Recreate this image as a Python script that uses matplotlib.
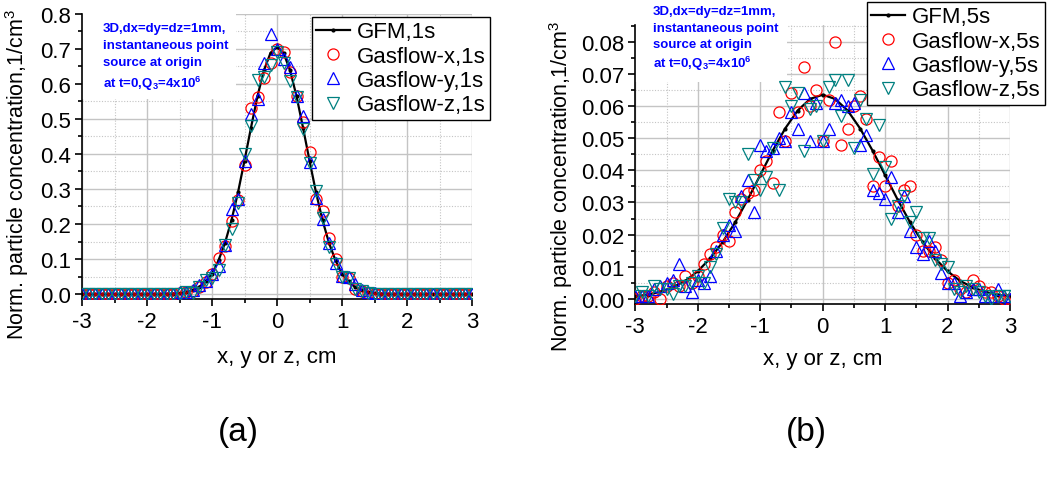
import matplotlib.pyplot as plt
from matplotlib.patches import Rectangle
from matplotlib.ticker import MultipleLocator

plt.rcParams['font.family'] = ['Liberation Sans', 'DejaVu Sans']
plt.rcParams['mathtext.fontset'] = 'custom'
plt.rcParams['mathtext.rm'] = 'Liberation Sans'
plt.rcParams['mathtext.bf'] = 'Liberation Sans:bold'
plt.rcParams['axes.unicode_minus'] = False

# sample positions of the gasflow cells, cm
x_cells = [-3.0, -2.9, -2.8, -2.7, -2.6, -2.5, -2.4, -2.3, -2.2, -2.1,
           -2.0, -1.9, -1.8, -1.7, -1.6, -1.5, -1.4, -1.3, -1.2, -1.1,
           -1.0, -0.9, -0.8, -0.7, -0.6, -0.5, -0.4, -0.3, -0.2, -0.1,
           0.0, 0.1, 0.2, 0.3, 0.4, 0.5, 0.6, 0.7, 0.8, 0.9,
           1.0, 1.1, 1.2, 1.3, 1.4, 1.5, 1.6, 1.7, 1.8, 1.9,
           2.0, 2.1, 2.2, 2.3, 2.4, 2.5, 2.6, 2.7, 2.8, 2.9, 3.0]

# ---- (a) t = 1s ----
gfm_1s = [0.0, 0.0, 0.0, 0.0, 0.0, 0.0, 0.0, 0.0, 0.0, 0.0,
          0.0, 0.0001, 0.0002, 0.0006, 0.0013, 0.0028, 0.0056, 0.011, 0.020, 0.036,
          0.058, 0.096, 0.146, 0.211, 0.290, 0.381, 0.475, 0.565, 0.639, 0.688,
          0.705, 0.688, 0.639, 0.565, 0.475, 0.381, 0.290, 0.211, 0.146, 0.096,
          0.058, 0.036, 0.020, 0.011, 0.0056, 0.0028, 0.0013, 0.0006, 0.0002, 0.0001,
          0.0, 0.0, 0.0, 0.0, 0.0, 0.0, 0.0, 0.0, 0.0, 0.0, 0.0]

gas_x_1s = [0.0, 0.0, 0.0, 0.0, 0.0, 0.0, 0.0, 0.0, 0.0, 0.0,
            0.0, 0.0, 0.0, 0.0, 0.0, 0.003, 0.005, 0.010, 0.020, 0.035,
            0.057, 0.102, 0.138, 0.209, 0.269, 0.367, 0.532, 0.563, 0.617, 0.660,
            0.700, 0.690, 0.635, 0.565, 0.490, 0.404, 0.270, 0.237, 0.161, 0.100,
            0.050, 0.045, 0.014, 0.008, 0.003, 0.001, 0.0, 0.0, 0.0, 0.0,
            0.0, 0.0, 0.0, 0.0, 0.0, 0.0, 0.0, 0.0, 0.0, 0.0, 0.0]

gas_y_1s = [0.0, 0.0, 0.0, 0.0, 0.0, 0.0, 0.0, 0.0, 0.0, 0.0,
            0.0, 0.0, 0.0, 0.0, 0.0, 0.005, 0.007, 0.013, 0.025, 0.038,
            0.057, 0.081, 0.140, 0.243, 0.271, 0.380, 0.514, 0.558, 0.660, 0.741,
            0.700, 0.670, 0.647, 0.566, 0.509, 0.376, 0.274, 0.214, 0.147, 0.090,
            0.052, 0.048, 0.028, 0.012, 0.006, 0.002, 0.0, 0.0, 0.0, 0.0,
            0.0, 0.0, 0.0, 0.0, 0.0, 0.0, 0.0, 0.0, 0.0, 0.0, 0.0]

gas_z_1s = [0.0, 0.0, 0.0, 0.0, 0.0, 0.0, 0.0, 0.0, 0.0, 0.0,
            0.0, 0.0, 0.0, 0.0, 0.0, 0.0, 0.005, 0.003, 0.020, 0.040,
            0.045, 0.070, 0.140, 0.185, 0.260, 0.400, 0.480, 0.612, 0.618, 0.655,
            0.690, 0.660, 0.608, 0.563, 0.470, 0.375, 0.294, 0.218, 0.133, 0.085,
            0.050, 0.045, 0.015, 0.010, 0.004, 0.0, 0.0, 0.0, 0.0, 0.0,
            0.0, 0.0, 0.0, 0.0, 0.0, 0.0, 0.0, 0.0, 0.0, 0.0, 0.0]

# ---- (b) t = 5s ----
x_gfm_5s = [-3.0, -2.8, -2.6, -2.4, -2.2, -2.0, -1.8, -1.6, -1.4, -1.2, -1.0,
            -0.8, -0.6, -0.4, -0.2, 0.0, 0.2, 0.4, 0.6, 0.8, 1.0,
            1.2, 1.4, 1.6, 1.8, 2.0, 2.2, 2.4, 2.6, 2.8, 3.0]
gfm_5s = [0.0008, 0.0013, 0.0022, 0.0036, 0.0056, 0.0086, 0.0126, 0.0177, 0.0238, 0.0309, 0.0385,
          0.0461, 0.0530, 0.0586, 0.0622, 0.0635, 0.0622, 0.0586, 0.0530, 0.0461, 0.0385,
          0.0309, 0.0238, 0.0177, 0.0126, 0.0086, 0.0056, 0.0036, 0.0022, 0.0013, 0.0008]

gas_x_5s = [0.000, 0.001, 0.001, 0.002, 0.000, 0.004, 0.005, 0.004, 0.007, 0.005,
            0.007, 0.011, 0.014, 0.016, 0.020, 0.018, 0.027, 0.031, 0.033, 0.034,
            0.040, 0.043, 0.036, 0.058, 0.049, 0.064, 0.058, 0.072, 0.060, 0.065,
            0.049, 0.062, 0.080, 0.048, 0.053, 0.060, 0.063, 0.056, 0.035, 0.044,
            0.035, 0.043, 0.029, 0.034, 0.035, 0.020, 0.015, 0.015, 0.016, 0.012,
            0.005, 0.006, 0.003, 0.002, 0.006, 0.004, 0.002, 0.002, 0.001, 0.000, 0.000]

gas_y_5s = [0.001, 0.001, 0.001, 0.003, 0.004, 0.005, 0.006, 0.011, 0.004, 0.002,
            0.006, 0.005, 0.007, 0.015, 0.020, 0.023, 0.021, 0.032, 0.037, 0.027,
            0.048, 0.046, 0.047, 0.050, 0.049, 0.058, 0.053, 0.064, 0.049, 0.061,
            0.049, 0.053, 0.061, 0.062, 0.060, 0.061, 0.048, 0.051, 0.034, 0.033,
            0.031, 0.038, 0.027, 0.032, 0.021, 0.016, 0.014, 0.018, 0.015, 0.008,
            0.005, 0.005, 0.001, 0.002, 0.003, 0.003, 0.001, 0.001, 0.003, 0.001, 0.000]

gas_z_5s = [0.001, 0.002, 0.001, 0.004, 0.003, 0.003, 0.0015, 0.004, 0.004, 0.005,
            0.007, 0.005, 0.010, 0.014, 0.022, 0.031, 0.030, 0.030, 0.045, 0.037,
            0.034, 0.038, 0.047, 0.034, 0.066, 0.060, 0.064, 0.046, 0.059, 0.060,
            0.049, 0.066, 0.068, 0.057, 0.068, 0.047, 0.062, 0.056, 0.039, 0.054,
            0.041, 0.025, 0.029, 0.032, 0.024, 0.027, 0.019, 0.019, 0.012, 0.011,
            0.010, 0.003, 0.002, 0.004, 0.003, 0.002, 0.001, 0.000, 0.001, 0.001, 0.001]

note_lines = ['3D,dx=dy=dz=1mm,', 'instantaneous point', 'source at origin',
              r'at t=0,Q$_\mathbf{3}$=4x10$^\mathbf{6}$']

RED = '#ff0000'
BLUE = '#0000ff'
TEAL = '#008080'
W, H = 1047, 481

fig = plt.figure(figsize=(W / 100, H / 100), dpi=100)


def px_axes(left, top, right, bottom):
    # figure pixel box -> add_axes rect
    return fig.add_axes([left / W, 1 - bottom / H, (right - left) / W, (bottom - top) / H])


def setup(ax, ymin, ymax, ymaj, ymin_step, fmt):
    ax.set_xlim(-3, 3)
    ax.set_ylim(ymin, ymax)
    ax.xaxis.set_major_locator(MultipleLocator(1))
    ax.xaxis.set_minor_locator(MultipleLocator(0.5))
    ax.yaxis.set_major_locator(MultipleLocator(ymaj))
    ax.yaxis.set_minor_locator(MultipleLocator(ymin_step))
    ax.yaxis.set_major_formatter(plt.FormatStrFormatter(fmt))
    ax.grid(which='major', color='#c4c4c4', lw=1.0, ls='-')
    ax.grid(which='minor', color='#c4c4c4', lw=0.8, ls=(0, (1, 1.5)))
    ax.set_axisbelow(True)
    ax.spines['top'].set_visible(False)
    ax.spines['right'].set_visible(False)
    ax.spines['left'].set_linewidth(1.2)
    ax.spines['bottom'].set_linewidth(1.2)
    ax.tick_params(which='both', direction='out', width=1.2, labelsize=16)
    ax.tick_params(which='major', length=5)
    ax.tick_params(which='minor', length=3)
    ax.tick_params(axis='y', pad=3)
    ax.tick_params(axis='x', pad=4)


def draw(ax, xg, yg, gx, gy, gz, t):
    ax.plot(xg, yg, color='black', lw=1.6, marker='o', ms=2, label='GFM,' + t, zorder=3)
    ax.plot(x_cells, gx, ls='none', marker='o', ms=8, mfc='none', mec=RED, mew=0.9,
            label='Gasflow-x,' + t, zorder=4)
    ax.plot(x_cells, gy, ls='none', marker='^', ms=8.5, mfc='none', mec=BLUE, mew=0.9,
            label='Gasflow-y,' + t, zorder=4)
    ax.plot(x_cells, gz, ls='none', marker='v', ms=8.5, mfc='none', mec=TEAL, mew=0.9,
            label='Gasflow-z,' + t, zorder=4)


def legend(ax, left, top):
    leg = ax.legend(loc='upper left', bbox_to_anchor=(left / W, 1 - top / H),
                    bbox_transform=fig.transFigure, borderaxespad=0, fontsize=16,
                    frameon=True, fancybox=False, framealpha=1, edgecolor='black',
                    borderpad=0.2, labelspacing=0.15, handlelength=1.5, handletextpad=0.3)
    leg.get_frame().set_linewidth(1.0)
    leg.set_zorder(10)


def note(ax, x0, baselines, box):
    # white block behind the note, hides the grid like the original
    ax.add_patch(Rectangle((box[0], box[1]), box[2], box[3], transform=ax.transAxes,
                           fc='white', ec='none', zorder=1, clip_on=False))
    for s, yb in zip(note_lines, baselines):
        fig.text(x0 / W, 1 - yb / H, s, color=BLUE, fontsize=9.5, fontweight='bold',
                 ha='left', va='baseline', zorder=11)


# (a)
ax1 = px_axes(82, 14.7, 472, 300)
setup(ax1, -0.014, 0.8, 0.1, 0.05, '%.1f')
draw(ax1, x_cells, gfm_1s, gas_x_1s, gas_y_1s, gas_z_1s, '1s')
legend(ax1, 312, 18)
note(ax1, 102.7, [31.7, 49.3, 65.7, 88.3], (0, 0.70, 0.395, 0.30))
ax1.set_xlabel('x, y or z, cm', fontsize=16)
ax1.xaxis.set_label_coords(0.5, -0.165)
ax1.set_ylabel('Norm. particle concentration,1/cm$^3$', fontsize=15.5)
ax1.yaxis.set_label_coords(-0.13, 0.44)

# (b)
ax2 = px_axes(635.3, 26, 1010, 305)
setup(ax2, -0.0016, 0.0852, 0.01, 0.005, '%.2f')
draw(ax2, x_gfm_5s, gfm_5s, gas_x_5s, gas_y_5s, gas_z_5s, '5s')
legend(ax2, 867, 3)
note(ax2, 652.7, [15, 31.7, 48.3, 68.3], (0, 0.796, 0.405, 0.204))
ax2.set_xlabel('x, y or z, cm', fontsize=16)
ax2.xaxis.set_label_coords(0.5, -0.158)
ax2.set_ylabel('Norm. particle concentration,1/cm$^3$', fontsize=15.5)
ax2.yaxis.set_label_coords(-0.161, 0.427)

fig.text(238 / W, 1 - 433 / H, '(a)', fontsize=24, ha='center', va='center')
fig.text(806 / W, 1 - 433 / H, '(b)', fontsize=24, ha='center', va='center')

fig.savefig('out.png', dpi=100)
